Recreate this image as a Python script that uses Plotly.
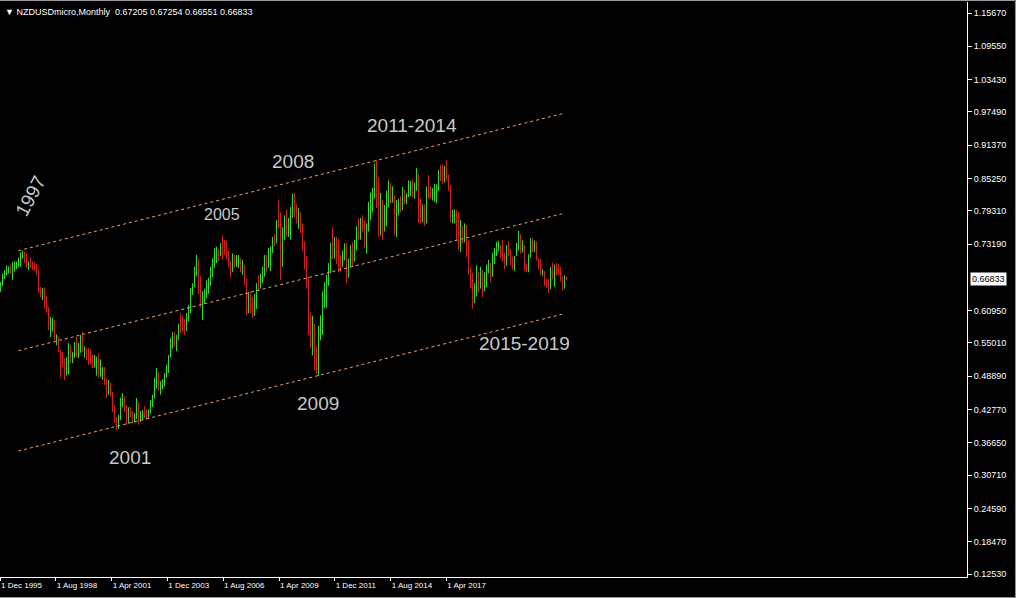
import plotly.graph_objects as go

# ---------------- DATA ----------------
start_year, start_month = 1995, 12   # first bar: Dec 1995, last bar: Jul 2019

highs = [
    0.662,
    # 1996
    0.678, 0.684, 0.693, 0.691, 0.694, 0.699, 0.700, 0.700, 0.707, 0.717, 0.720, 0.718,
    # 1997
    0.715, 0.700, 0.708, 0.700, 0.698, 0.695, 0.684, 0.653, 0.651, 0.652, 0.636, 0.616,
    # 1998
    0.598, 0.596, 0.592, 0.566, 0.560, 0.537, 0.534, 0.522, 0.524, 0.550, 0.546, 0.533,
    # 1999
    0.552, 0.561, 0.550, 0.565, 0.571, 0.544, 0.541, 0.540, 0.538, 0.528, 0.528, 0.525,
    # 2000
    0.531, 0.520, 0.506, 0.506, 0.485, 0.482, 0.477, 0.460, 0.436, 0.414, 0.418, 0.449,
    # 2001
    0.458, 0.452, 0.436, 0.432, 0.432, 0.425, 0.421, 0.449, 0.441, 0.425, 0.427, 0.434,
    # 2002
    0.428, 0.428, 0.445, 0.455, 0.486, 0.504, 0.497, 0.480, 0.483, 0.495, 0.510, 0.528,
    # 2003
    0.559, 0.570, 0.570, 0.565, 0.585, 0.605, 0.600, 0.594, 0.605, 0.620, 0.651, 0.660,
    # 2004
    0.690, 0.712, 0.705, 0.673, 0.645, 0.650, 0.665, 0.670, 0.690, 0.706, 0.725, 0.727,
    # 2005
    0.722, 0.734, 0.748, 0.740, 0.738, 0.720, 0.700, 0.715, 0.712, 0.712, 0.712, 0.706,
    # 2006
    0.703, 0.693, 0.668, 0.644, 0.645, 0.635, 0.640, 0.660, 0.675, 0.678, 0.690, 0.712,
    # 2007
    0.712, 0.725, 0.727, 0.745, 0.750, 0.776, 0.813, 0.790, 0.763, 0.785, 0.795, 0.780,
    # 2008
    0.800, 0.824, 0.826, 0.805, 0.798, 0.790, 0.770, 0.737, 0.710, 0.672, 0.605, 0.600,
    # 2009
    0.585, 0.545, 0.582, 0.601, 0.645, 0.662, 0.675, 0.697, 0.734, 0.763, 0.745, 0.745,
    # 2010
    0.742, 0.712, 0.720, 0.733, 0.734, 0.705, 0.730, 0.735, 0.740, 0.765, 0.780, 0.780,
    # 2011
    0.785, 0.775, 0.770, 0.810, 0.827, 0.835, 0.880, 0.886, 0.855, 0.826, 0.813, 0.804,
    # 2012
    0.830, 0.849, 0.844, 0.838, 0.822, 0.813, 0.815, 0.820, 0.837, 0.832, 0.825, 0.849,
    # 2013
    0.848, 0.852, 0.845, 0.872, 0.862, 0.816, 0.805, 0.805, 0.838, 0.859, 0.838, 0.835,
    # 2014
    0.843, 0.842, 0.869, 0.877, 0.878, 0.876, 0.886, 0.860, 0.840, 0.795, 0.796, 0.795,
    # 2015
    0.792, 0.776, 0.765, 0.770, 0.767, 0.739, 0.690, 0.679, 0.660, 0.693, 0.680, 0.690,
    # 2016
    0.684, 0.680, 0.694, 0.703, 0.697, 0.716, 0.725, 0.736, 0.738, 0.731, 0.740, 0.716,
    # 2017
    0.730, 0.737, 0.723, 0.709, 0.710, 0.734, 0.756, 0.750, 0.739, 0.730, 0.696, 0.713,
    # 2018
    0.743, 0.744, 0.738, 0.737, 0.706, 0.705, 0.686, 0.682, 0.668, 0.667, 0.690, 0.698,
    # 2019
    0.694, 0.697, 0.695, 0.690, 0.672, 0.675, 0.67254,
]

lows = [
    0.644,
    # 1996
    0.655, 0.668, 0.674, 0.678, 0.678, 0.666, 0.681, 0.686, 0.690, 0.690, 0.705, 0.697,
    # 1997
    0.688, 0.684, 0.688, 0.684, 0.682, 0.676, 0.642, 0.634, 0.629, 0.613, 0.605, 0.574,
    # 1998
    0.561, 0.571, 0.555, 0.546, 0.532, 0.487, 0.506, 0.482, 0.490, 0.492, 0.513, 0.513,
    # 1999
    0.523, 0.523, 0.522, 0.532, 0.533, 0.523, 0.518, 0.510, 0.510, 0.504, 0.505, 0.490,
    # 2000
    0.486, 0.488, 0.482, 0.473, 0.449, 0.455, 0.452, 0.423, 0.403, 0.390, 0.392, 0.408,
    # 2001
    0.432, 0.423, 0.400, 0.402, 0.414, 0.403, 0.403, 0.410, 0.400, 0.405, 0.408, 0.412,
    # 2002
    0.410, 0.412, 0.420, 0.432, 0.448, 0.466, 0.462, 0.455, 0.465, 0.470, 0.486, 0.495,
    # 2003
    0.523, 0.540, 0.543, 0.535, 0.556, 0.568, 0.570, 0.565, 0.572, 0.590, 0.605, 0.638,
    # 2004
    0.652, 0.672, 0.640, 0.615, 0.592, 0.622, 0.632, 0.640, 0.655, 0.671, 0.688, 0.697,
    # 2005
    0.700, 0.710, 0.703, 0.712, 0.703, 0.690, 0.670, 0.680, 0.688, 0.690, 0.688, 0.680,
    # 2006
    0.675, 0.656, 0.601, 0.605, 0.605, 0.596, 0.600, 0.612, 0.645, 0.650, 0.660, 0.672,
    # 2007
    0.680, 0.688, 0.682, 0.715, 0.728, 0.733, 0.760, 0.666, 0.690, 0.740, 0.745, 0.745,
    # 2008
    0.740, 0.780, 0.780, 0.770, 0.760, 0.752, 0.720, 0.685, 0.650, 0.565, 0.540, 0.527,
    # 2009
    0.500, 0.493, 0.489, 0.555, 0.565, 0.615, 0.615, 0.655, 0.678, 0.705, 0.705, 0.695,
    # 2010
    0.680, 0.680, 0.690, 0.702, 0.660, 0.670, 0.690, 0.690, 0.700, 0.720, 0.740, 0.740,
    # 2011
    0.755, 0.725, 0.715, 0.755, 0.776, 0.790, 0.815, 0.798, 0.745, 0.748, 0.739, 0.755,
    # 2012
    0.765, 0.800, 0.807, 0.808, 0.748, 0.745, 0.785, 0.790, 0.794, 0.805, 0.805, 0.818,
    # 2013
    0.820, 0.818, 0.815, 0.830, 0.771, 0.771, 0.772, 0.765, 0.770, 0.815, 0.815, 0.812,
    # 2014
    0.810, 0.807, 0.830, 0.848, 0.842, 0.845, 0.848, 0.830, 0.773, 0.770, 0.770, 0.739,
    # 2015
    0.721, 0.717, 0.733, 0.735, 0.708, 0.677, 0.650, 0.613, 0.623, 0.636, 0.643, 0.650,
    # 2016
    0.634, 0.645, 0.653, 0.678, 0.662, 0.672, 0.695, 0.710, 0.719, 0.706, 0.700, 0.685,
    # 2017
    0.692, 0.710, 0.692, 0.685, 0.682, 0.710, 0.720, 0.714, 0.716, 0.683, 0.680, 0.680,
    # 2018
    0.707, 0.717, 0.717, 0.702, 0.685, 0.675, 0.673, 0.655, 0.652, 0.642, 0.649, 0.667,
    # 2019
    0.653, 0.674, 0.675, 0.663, 0.646, 0.649, 0.66551,
]

closes = [
    0.657,
    # 1996
    0.673, 0.680, 0.686, 0.688, 0.681, 0.694, 0.695, 0.697, 0.703, 0.713, 0.714, 0.702,
    # 1997
    0.690, 0.697, 0.690, 0.686, 0.684, 0.678, 0.648, 0.638, 0.645, 0.618, 0.612, 0.580,
    # 1998
    0.590, 0.594, 0.560, 0.562, 0.536, 0.520, 0.510, 0.492, 0.517, 0.540, 0.520, 0.528,
    # 1999
    0.546, 0.528, 0.544, 0.560, 0.536, 0.538, 0.522, 0.515, 0.512, 0.508, 0.520, 0.522,
    # 2000
    0.492, 0.500, 0.502, 0.478, 0.455, 0.470, 0.456, 0.430, 0.408, 0.396, 0.412, 0.444,
    # 2001
    0.450, 0.430, 0.406, 0.425, 0.418, 0.408, 0.416, 0.440, 0.408, 0.418, 0.422, 0.416,
    # 2002
    0.413, 0.424, 0.441, 0.452, 0.482, 0.498, 0.470, 0.476, 0.479, 0.492, 0.506, 0.525,
    # 2003
    0.550, 0.562, 0.550, 0.558, 0.580, 0.578, 0.575, 0.571, 0.600, 0.615, 0.645, 0.656,
    # 2004
    0.680, 0.705, 0.660, 0.627, 0.628, 0.640, 0.650, 0.662, 0.680, 0.700, 0.718, 0.720,
    # 2005
    0.706, 0.729, 0.716, 0.714, 0.708, 0.695, 0.684, 0.700, 0.692, 0.705, 0.708, 0.685,
    # 2006
    0.692, 0.662, 0.615, 0.638, 0.625, 0.608, 0.620, 0.650, 0.648, 0.670, 0.685, 0.705,
    # 2007
    0.700, 0.715, 0.720, 0.740, 0.735, 0.770, 0.768, 0.710, 0.755, 0.770, 0.760, 0.770,
    # 2008
    0.785, 0.810, 0.790, 0.782, 0.785, 0.760, 0.727, 0.700, 0.670, 0.590, 0.560, 0.580,
    # 2009
    0.510, 0.500, 0.570, 0.575, 0.637, 0.645, 0.668, 0.685, 0.722, 0.718, 0.728, 0.722,
    # 2010
    0.700, 0.695, 0.710, 0.725, 0.680, 0.690, 0.725, 0.700, 0.735, 0.755, 0.752, 0.775,
    # 2011
    0.770, 0.750, 0.762, 0.805, 0.818, 0.828, 0.875, 0.830, 0.762, 0.800, 0.765, 0.775,
    # 2012
    0.822, 0.830, 0.818, 0.820, 0.750, 0.800, 0.808, 0.800, 0.828, 0.821, 0.822, 0.828,
    # 2013
    0.838, 0.826, 0.837, 0.857, 0.796, 0.775, 0.800, 0.775, 0.830, 0.823, 0.820, 0.822,
    # 2014
    0.825, 0.838, 0.866, 0.860, 0.848, 0.873, 0.852, 0.838, 0.780, 0.782, 0.785, 0.780,
    # 2015
    0.728, 0.755, 0.747, 0.762, 0.712, 0.678, 0.660, 0.637, 0.640, 0.676, 0.657, 0.684,
    # 2016
    0.648, 0.658, 0.690, 0.698, 0.676, 0.713, 0.720, 0.726, 0.728, 0.714, 0.711, 0.694,
    # 2017
    0.727, 0.719, 0.700, 0.687, 0.708, 0.733, 0.751, 0.718, 0.722, 0.686, 0.685, 0.709,
    # 2018
    0.738, 0.722, 0.723, 0.704, 0.699, 0.677, 0.681, 0.663, 0.663, 0.653, 0.687, 0.671,
    # 2019
    0.692, 0.681, 0.681, 0.668, 0.653, 0.672, 0.66833,
]

first_open = 0.652
last_open = 0.67205

# channel lines (bar index, price) at both ends
channel_x = [8.9, 282.25]
channel_upper = [0.7197, 0.9729]
channel_middle = [0.5359, 0.7890]
channel_lower = [0.3514, 0.6043]

# axis labels
x_tick_labels = ["1 Dec 1995", "1 Aug 1998", "1 Apr 2001", "1 Dec 2003", "1 Aug 2006",
                 "1 Apr 2009", "1 Dec 2011", "1 Aug 2014", "1 Apr 2017"]
x_tick_bars = [-0.2, 27.6, 55.6, 83.4, 111.25, 139.25, 167.1, 195.1, 222.9]
y_tick_values = [1.15670, 1.09550, 1.03430, 0.97490, 0.91370, 0.85250, 0.79310, 0.73190,
                 0.60950, 0.55010, 0.48890, 0.42770, 0.36650, 0.30710, 0.24590, 0.18470, 0.12530]

title_text = "NZDUSDmicro,Monthly&nbsp;&nbsp;0.67205 0.67254 0.66551 0.66833"

# ---------------- BUILD ----------------
n = len(closes)
idx = list(range(n))
opens = [first_open] + closes[:-1]
opens[-1] = last_open

fig = go.Figure()

fig.add_trace(go.Ohlc(
    x=idx, open=opens, high=highs, low=lows, close=closes,
    increasing=dict(line=dict(color="#33d633", width=1)),
    decreasing=dict(line=dict(color="#cc2222", width=1)),
    tickwidth=0, showlegend=False, hoverinfo="skip",
))

for ys in (channel_upper, channel_middle, channel_lower):
    fig.add_trace(go.Scatter(
        x=channel_x, y=ys, mode="lines",
        line=dict(color="#f0a060", width=1, dash="3px,3px"),
        showlegend=False, hoverinfo="skip",
    ))

label_font = dict(family="Liberation Sans, Arial, sans-serif", size=19, color="#c8c8c8")
notes = [
    ("2005", 110.6, 0.7854, 16, 0),
    ("2008", 146.25, 0.8846, 19, 0),
    ("2011-2014", 205.5, 0.9508, 19, 0),
    ("2009", 158.75, 0.4397, 19, 0),
    ("2001", 64.75, 0.3404, 19, 0),
    ("2015-2019", 261.75, 0.5500, 19, 0),
    ("1997", 14.75, 0.8203, 19, -62),
]
for txt, xv, yv, sz, ang in notes:
    fig.add_annotation(x=xv, y=yv, xref="x", yref="y", text=txt, showarrow=False,
                       textangle=ang, xanchor="center", yanchor="middle",
                       font=dict(label_font, size=sz))

# title in top-left
fig.add_annotation(x=0, y=1, xref="paper", yref="paper", xanchor="left", yanchor="middle",
                   xshift=3, yshift=-10, showarrow=False, text="▼ " + title_text,
                   font=dict(family="Liberation Sans, Arial, sans-serif", size=9, color="white"))

# current price label
fig.add_annotation(x=1, y=closes[-1], xref="paper", yref="y", xanchor="left", yanchor="middle",
                   xshift=3, showarrow=False, text=f"{closes[-1]:.5f}",
                   bgcolor="white", borderpad=1,
                   font=dict(family="Liberation Sans, Arial, sans-serif", size=9, color="black"))

# window frame (top, right, bottom)
frame = dict(color="#9a9a9a", width=1)
fig.add_shape(type="line", xref="paper", yref="paper", x0=0, x1=1.0501, y0=1.0026, y1=1.0026, line=frame)
fig.add_shape(type="line", xref="paper", yref="paper", x0=1.0501, x1=1.0501, y0=1.0026, y1=-0.0357, line=frame)
fig.add_shape(type="line", xref="paper", yref="paper", x0=0, x1=1.0501, y0=-0.0357, y1=-0.0357, line=frame)

axis_font = dict(family="Liberation Sans, Arial, sans-serif", size=9, color="white")
fig.update_layout(
    width=1016, height=598,
    margin=dict(l=0, r=49, t=2, b=21, pad=0),
    paper_bgcolor="black", plot_bgcolor="black",
    xaxis=dict(
        range=[-0.25, 483.25], rangeslider=dict(visible=False), automargin=False,
        showgrid=False, zeroline=False, showline=True, linecolor="white", linewidth=1,
        tickmode="array", tickvals=x_tick_bars, ticktext=x_tick_labels,
        ticks="outside", ticklen=3, tickcolor="white",
        tickfont=dict(axis_font, size=8),
        ticklabelposition="outside right",
    ),
    yaxis=dict(
        side="right", range=[0.1198, 1.1770], automargin=False,
        showgrid=False, zeroline=False, showline=True, linecolor="white", linewidth=1,
        tickmode="array", tickvals=y_tick_values,
        ticktext=[f"{v:.5f}" for v in y_tick_values],
        ticks="outside", ticklen=4, tickcolor="white", tickfont=axis_font,
    ),
)

fig.write_html(
    "out.html",
    config={"displayModeBar": False},
    post_script="document.body.style.margin='0';document.body.style.background='black';",
)
